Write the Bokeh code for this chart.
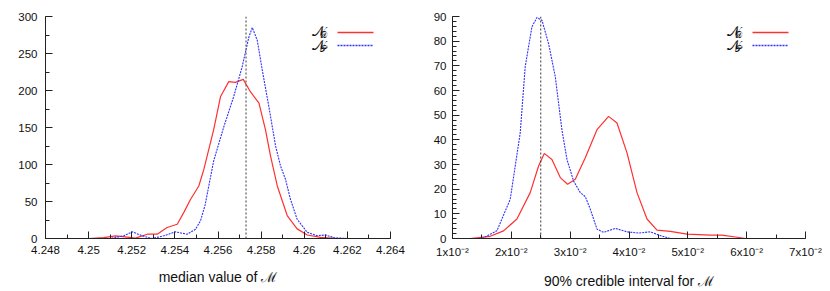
from bokeh.plotting import figure
from bokeh.layouts import row
from bokeh.models import (FixedTicker, CustomJSTickFormatter, Span, Label, Arrow, Range1d)
from bokeh.embed import file_html
from bokeh.resources import INLINE

# ---------------- data: left panel (median value of M) ----------------
med_d_x = [4.2500, 4.2507, 4.25125, 4.25179, 4.25217, 4.25272, 4.25318, 4.25364, 4.25411,
           4.25441, 4.25473, 4.25511, 4.25534, 4.2558, 4.25612, 4.2565, 4.25681, 4.25717,
           4.25751, 4.2579, 4.2582, 4.25844, 4.25875, 4.25921, 4.25967, 4.26014, 4.26075,
           4.2614, 4.2620]
med_d_y = [0, 1.3, 3.6, 1.8, 0.5, 5.8, 5.8, 14.8, 19.2, 35, 53, 71, 93, 147, 192, 212, 211,
           215, 198, 183, 147, 111, 71, 31, 13, 4.7, 1.6, 0.3, 0]

med_p_x = [4.2505, 4.2510, 4.25163, 4.25202, 4.25249, 4.25295, 4.25349, 4.25403, 4.25457,
           4.25496, 4.25519, 4.2554, 4.2558, 4.25627, 4.25673, 4.25712, 4.25743, 4.25759,
           4.25782, 4.25805, 4.25836, 4.25867, 4.2589, 4.25913, 4.25936, 4.25967, 4.26014,
           4.2606, 4.26099, 4.2614, 4.2620]
med_p_y = [0, 0, 3.6, 9, 3.6, 0, 3.6, 9, 5.8, 12.5, 24, 45, 105, 151, 192, 232, 272, 285,
           268, 228, 178, 125, 98, 80, 53, 26, 8.3, 3.8, 4.7, 1, 0]

med_ref = 4.2573

# ---------------- data: right panel (90% credible interval) ----------------
ci_d_x = [0.0130, 0.01641, 0.01868, 0.02095, 0.02321, 0.02463, 0.0256, 0.0269, 0.02832,
          0.02956, 0.03087, 0.03257, 0.03456, 0.03653, 0.03796, 0.03966, 0.04136, 0.04306,
          0.04476, 0.04702, 0.04986, 0.05383, 0.0558, 0.0581, 0.0598, 0.0626]
ci_d_y = [0, 0.9, 3.1, 7.9, 18.6, 29.4, 34.5, 32, 24.7, 22, 24, 32.7, 44.1, 49.5, 46.8,
          34.7, 18.6, 7.9, 3.4, 2.9, 1.8, 1.4, 1.4, 0.6, 0, 0]

ci_p_x = [0.0135, 0.0150, 0.01755, 0.01981, 0.02151, 0.02236, 0.0235, 0.02435, 0.0252,
          0.02633, 0.02747, 0.0286, 0.02946, 0.03058, 0.03172, 0.03257, 0.03342, 0.03456,
          0.03569, 0.03767, 0.03966, 0.04165, 0.04362, 0.04532, 0.04702, 0.0480]
ci_p_y = [0, 0, 3.1, 15.9, 42.8, 69.7, 85.8, 89.6, 88.5, 79, 65.6, 44, 32, 23.3, 18.6, 17,
          11.9, 3.8, 2.5, 4.1, 2.7, 2.2, 2.7, 1.2, 0, 0]

ci_ref = 0.025

med_xticks = [4.248, 4.250, 4.252, 4.254, 4.256, 4.258, 4.260, 4.262, 4.264]
med_xminor = [4.248 + 0.001 * i for i in range(17)]
med_yticks = [0, 50, 100, 150, 200, 250, 300]
med_yminor = [25 * i for i in range(13)]

ci_xticks = [0.01, 0.02, 0.03, 0.04, 0.05, 0.06, 0.07]
ci_xminor = [0.01 + 0.005 * i for i in range(13)]
ci_yticks = [0, 10, 20, 30, 40, 50, 60, 70, 80, 90]
ci_yminor = [2 * i for i in range(46)]

RED = "#ff3030"
BLUE = "#3030ff"
FONT = "Liberation Sans"
AXC = "#222222"
DOTS = "2 1"


def style(p, xt, xm, yt, ym):
    p.xaxis.ticker = FixedTicker(ticks=xt, minor_ticks=xm)
    p.yaxis.ticker = FixedTicker(ticks=yt, minor_ticks=ym)
    for ax in (p.xaxis[0], p.yaxis[0]):
        ax.axis_line_color = AXC
        ax.major_tick_line_color = AXC
        ax.minor_tick_line_color = AXC
        ax.major_tick_in = 7
        ax.major_tick_out = 0
        ax.minor_tick_in = 4
        ax.minor_tick_out = 0
        ax.major_label_text_font = FONT
        ax.major_label_text_font_size = "11.5px"
        ax.major_label_text_color = "#111111"
        ax.axis_label_text_font = FONT
        ax.axis_label_text_font_size = "14px"
        ax.axis_label_text_font_style = "normal"
        ax.axis_label_text_color = "#111111"
    p.xaxis.major_label_standoff = 7
    p.yaxis.major_label_standoff = 8
    p.xaxis.axis_label_standoff = 12
    p.xgrid.visible = False
    p.ygrid.visible = False
    p.outline_line_color = None


def legend(p, fw):
    rows = [("𝒟", RED, None, 206, 207.5, 204), ("𝒫", BLUE, DOTS, 193, 194, 190)]
    for sub, col, dash, ly, ny, sy in rows:
        a = Arrow(x_start=fw - 53, y_start=ly, x_end=fw - 17, y_end=ly,
                  start_units="screen", end_units="screen", end=None, start=None,
                  line_color=col, line_width=1.5)
        if dash:
            a.line_dash = dash
        p.add_layout(a)
        p.add_layout(Label(x=fw - 66, y=ny, x_units="screen", y_units="screen", text="𝒩",
                           text_font="DejaVu Serif", text_font_size="14px",
                           text_align="right", text_baseline="middle", text_color="#111111"))
        p.add_layout(Label(x=fw - 71, y=sy, x_units="screen", y_units="screen", text=sub,
                           text_font="DejaVu Serif", text_font_size="9px",
                           text_align="left", text_baseline="middle", text_color="#111111"))


# ---------------- left figure ----------------
p1 = figure(width=415, height=291, output_backend="svg", toolbar_location=None,
            x_range=Range1d(4.248, 4.264), y_range=Range1d(0, 300),
            min_border_left=45, min_border_right=25, min_border_top=16, min_border_bottom=51,
            x_axis_label="median value of ℳ")
style(p1, med_xticks, med_xminor, med_yticks, med_yminor)
p1.xaxis.formatter = CustomJSTickFormatter(code="return parseFloat(tick.toFixed(3)).toString();")
p1.add_layout(Span(location=med_ref, dimension="height", line_color="#666666",
                   line_dash="2 2", line_width=1.3))
p1.line(med_d_x, med_d_y, line_color=RED, line_width=1.2)
p1.line(med_p_x, med_p_y, line_color=BLUE, line_width=1.1, line_dash=DOTS)
legend(p1, 345)

# ---------------- right figure ----------------
p2 = figure(width=415, height=291, output_backend="svg", toolbar_location=None,
            x_range=Range1d(0.01, 0.07), y_range=Range1d(0, 90),
            min_border_left=37, min_border_right=25, min_border_top=16, min_border_bottom=51,
            x_axis_label="90% credible interval for ℳ")
style(p2, ci_xticks, ci_xminor, ci_yticks, ci_yminor)
p2.xaxis.formatter = CustomJSTickFormatter(code="return Math.round(tick*100) + 'x10\u207b\u00b2';")
p2.yaxis.major_label_standoff = 6
p2.add_layout(Span(location=ci_ref, dimension="height", line_color="#333333",
                   line_dash="2 2", line_width=1))
p2.line(ci_d_x, ci_d_y, line_color=RED, line_width=1.2)
p2.line(ci_p_x, ci_p_y, line_color=BLUE, line_width=1.1, line_dash=DOTS)
legend(p2, 353)

layout = row(p1, p2)
open("out.html", "w").write(file_html(layout, INLINE))
